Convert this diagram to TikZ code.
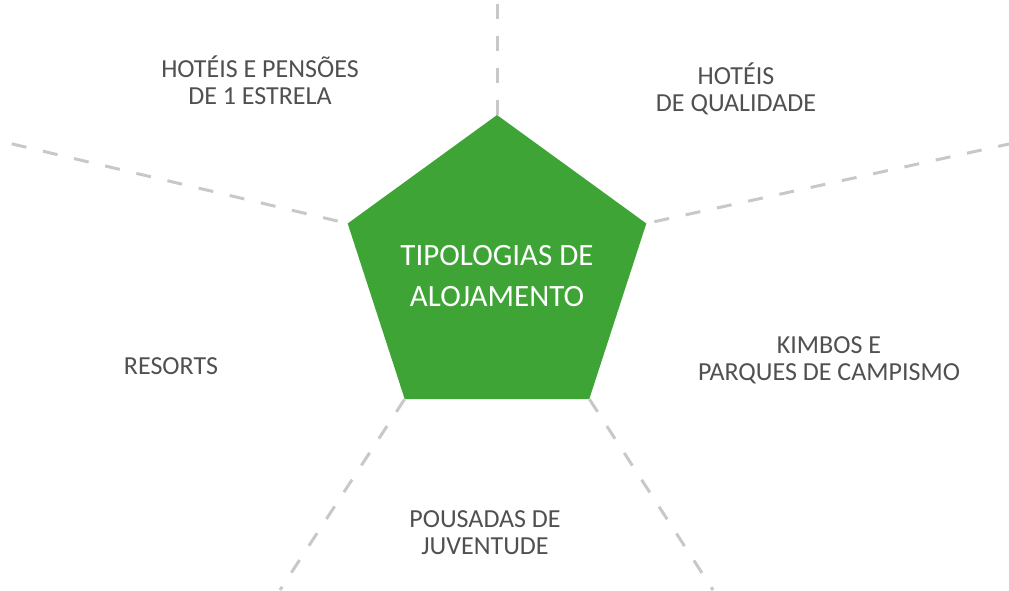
\documentclass[tikz,border=0pt]{standalone}
\usepackage{fontspec}
\setmainfont{Carlito}
\usepackage{tikz}
\usetikzlibrary{shapes.geometric,positioning}
\definecolor{alojGreen}{RGB}{62,164,53}
\definecolor{alojGrey}{RGB}{80,80,80}
\definecolor{alojDash}{RGB}{200,200,200}
\tikzset{
  guide/.style={draw=alojDash, line width=3pt, dash pattern=on 15pt off 17pt},
  tipo/.style={text=alojGrey, align=center, inner sep=0pt,
    font=\fontsize{26}{27}\selectfont}
}

\begin{document}
\begin{tikzpicture}[x=1pt,y=-1pt]
    \useasboundingbox (0,0) rectangle (1009,590);

    % Pentagon
    \node[regular polygon, regular polygon sides=5, minimum size=314pt,
          fill=alojGreen, text=white, align=center, inner sep=0pt,
          font=\fontsize{31}{41}\selectfont]
          (pent) at (497,272) {};
    \node[text=white, align=center, inner sep=0pt,
          font=\fontsize{31}{41}\selectfont]
          (title) at (497,276) {TIPOLOGIAS DE\\ALOJAMENTO};

    % Outer ends of the dashed guides
    \coordinate (endTop) at (497,0);
    \coordinate (endLeft) at (0,141);
    \coordinate (endRight) at (1009,144);
    \coordinate (endBL) at (280,590);
    \coordinate (endBR) at (713,590);

    % Dashed guides
    \draw[guide] (pent.corner 1) -- (endTop);
    \draw[guide, shorten <=10pt] (pent.corner 2) -- (endLeft);
    \draw[guide] (pent.corner 3) -- (endBL);
    \draw[guide] (pent.corner 4) -- (endBR);
    \draw[guide, shorten <=8pt] (pent.corner 5) -- (endRight);

    % Labels
    \node[tipo] (umaEstrela) at (260,80) {HOTÉIS E PENSÕES\\DE 1 ESTRELA};
    \node[tipo] (qualidade) at (736,89) {HOTÉIS\\DE QUALIDADE};
    \node[tipo] (kimbos) at (829,360) {KIMBOS E\\PARQUES DE CAMPISMO};
    \node[tipo] (resorts) at (171,366) {RESORTS};
    \node[tipo] (pousadas) at (485,533) {POUSADAS DE\\JUVENTUDE};

\end{tikzpicture}
\end{document}
